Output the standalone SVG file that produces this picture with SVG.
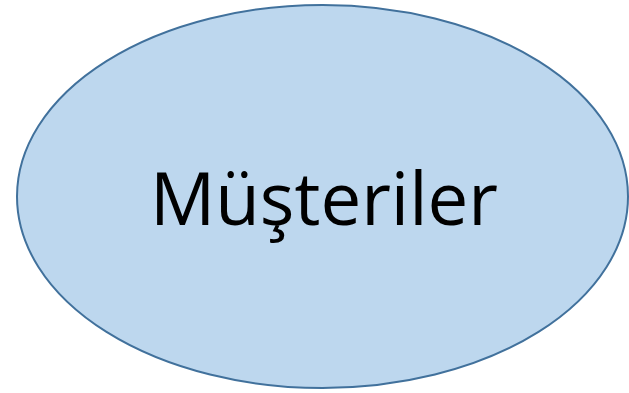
<svg xmlns="http://www.w3.org/2000/svg" width="629" height="393" viewBox="0 0 629 393">
<style>
.node{fill:#BDD7EE;stroke:#41719C;stroke-width:2}
.lbl{font-family:"Open Sans","Noto Sans","Liberation Sans",sans-serif;font-size:74px;fill:#000;text-anchor:middle}
</style>
<rect width="629" height="393" fill="#fff"/>
<g id="musteriler">
<ellipse class="node" cx="322.5" cy="196.5" rx="305.5" ry="191.5"/>
<text class="lbl" x="324" y="225" textLength="348" lengthAdjust="spacingAndGlyphs">Müşteriler</text>
</g>
<g id="connectors"></g>
</svg>
